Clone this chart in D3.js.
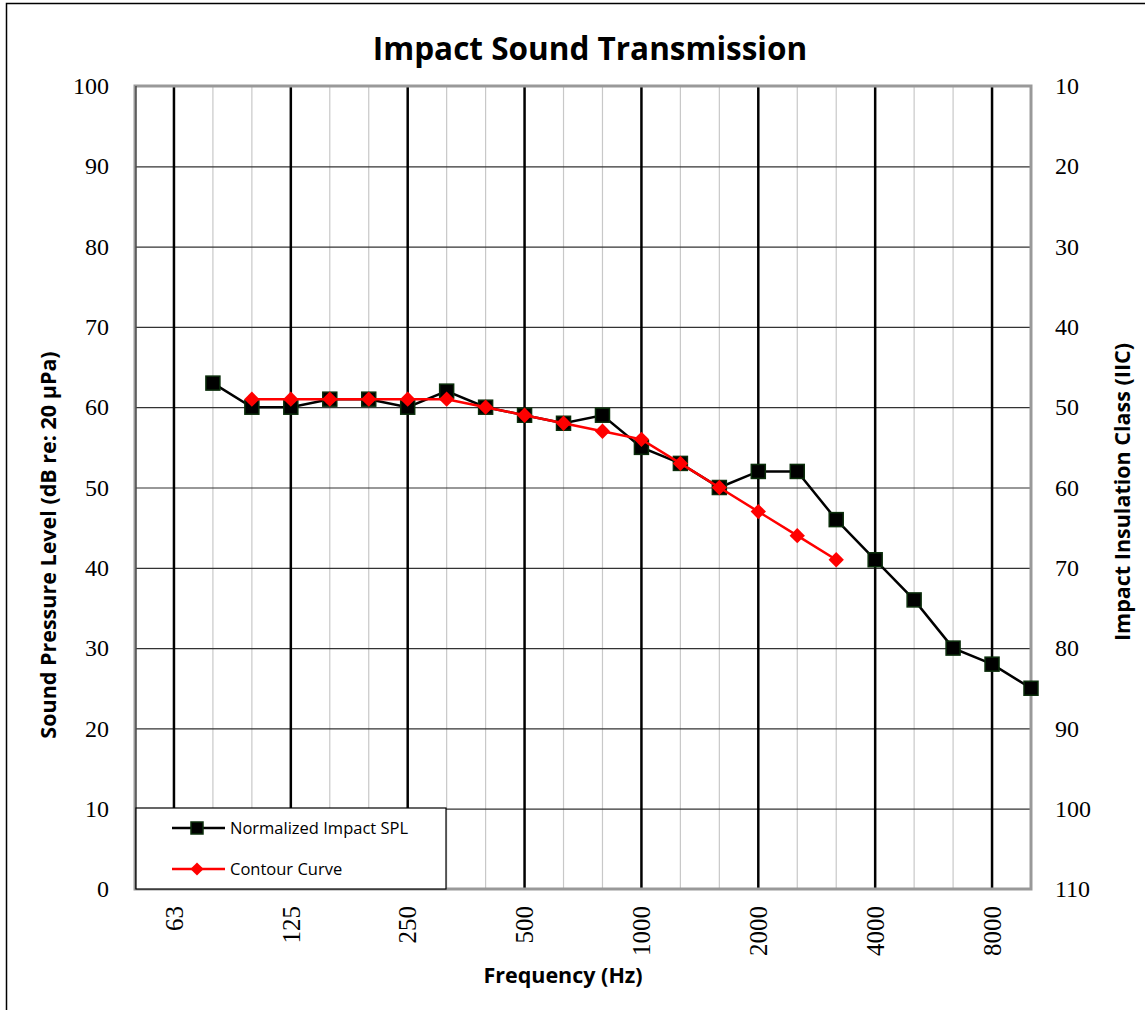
<!DOCTYPE html>
<html>
<head>
<meta charset="utf-8">
<script src="https://cdn.jsdelivr.net/npm/d3@7"></script>
<style>
  body { margin: 0; background: #fff; }
  .tick-serif { font-family: "Liberation Serif", "Times New Roman", serif; font-size: 24px; fill: #000; }
  .axis-title { font-family: "Open Sans", sans-serif; font-weight: bold; font-size: 21.5px; fill: #000; }
  .chart-title { font-family: "Open Sans", sans-serif; font-weight: bold; font-size: 31.5px; fill: #000; }
  .legend { font-family: "Open Sans", sans-serif; font-size: 16.5px; fill: #000; }
</style>
</head>
<body>
<div id="viz_container"></div>
<script>
// third-octave bands shown on the x axis
const bands = ["50", "63", "80", "100", "125", "160", "200", "250", "315", "400", "500", "630", "800",
  "1000", "1250", "1600", "2000", "2500", "3150", "4000", "5000", "6300", "8000", "10000"];
const octaveLabels = ["63", "125", "250", "500", "1000", "2000", "4000", "8000"];

// Normalized Impact SPL
const splBands = ["80", "100", "125", "160", "200", "250", "315", "400", "500", "630", "800", "1000",
  "1250", "1600", "2000", "2500", "3150", "4000", "5000", "6300", "8000", "10000"];
const splValues = [63, 60, 60, 61, 61, 60, 62, 60, 59, 58, 59, 55, 53, 50, 52, 52, 46, 41, 36, 30, 28, 25];

// Contour curve
const contourBands = ["100", "125", "160", "200", "250", "315", "400", "500", "630", "800", "1000",
  "1250", "1600", "2000", "2500", "3150"];
const contourValues = [61, 61, 61, 61, 61, 61, 60, 59, 58, 57, 56, 53, 50, 47, 44, 41];

const leftTicks = [0, 10, 20, 30, 40, 50, 60, 70, 80, 90, 100];
const rightTicks = [10, 20, 30, 40, 50, 60, 70, 80, 90, 100, 110];

// dimensions
const margin = { top: 86, right: 114, bottom: 121, left: 135 };
const W = 1145, H = 1010;
const width = W - margin.left - margin.right;
const height = H - margin.top - margin.bottom;

const root = d3.select("#viz_container")
  .append("svg")
  .attr("width", W)
  .attr("height", H);

// outer frame
root.append("rect")
  .attr("x", 6.5).attr("y", 3.5)
  .attr("width", W + 20).attr("height", H + 20)
  .attr("fill", "none").attr("stroke", "#000").attr("stroke-width", 1.5);

const svg = root.append("g")
  .attr("transform", `translate(${margin.left},${margin.top})`);

// scales
const xScale = d3.scalePoint().domain(bands).range([0, width]);
const yScale = d3.scaleLinear().domain([0, 100]).range([height, 0]);
const yRight = d3.scaleLinear().domain([10, 110]).range([0, height]);

// minor vertical grid
svg.append("g")
  .selectAll("line")
  .data(bands.filter(b => !octaveLabels.includes(b)))
  .join("line")
  .attr("x1", d => xScale(d)).attr("x2", d => xScale(d))
  .attr("y1", 0).attr("y2", height)
  .attr("stroke", "#c8c8c8").attr("stroke-width", 1.2);

// horizontal grid
svg.append("g")
  .call(d3.axisLeft(yScale).tickValues(leftTicks).tickSize(-width).tickFormat(""))
  .call(g => g.select(".domain").remove())
  .call(g => g.selectAll(".tick line").attr("stroke", "#333").attr("stroke-width", 1.2));

// major (octave) vertical grid
svg.append("g")
  .selectAll("line")
  .data(octaveLabels)
  .join("line")
  .attr("x1", d => xScale(d)).attr("x2", d => xScale(d))
  .attr("y1", 0).attr("y2", height)
  .attr("stroke", "#000").attr("stroke-width", 2.5);

// plot border
svg.append("rect")
  .attr("x", 0).attr("y", 0).attr("width", width).attr("height", height)
  .attr("fill", "none").attr("stroke", "#999").attr("stroke-width", 3);
svg.append("line")
  .attr("x1", 1).attr("x2", 1).attr("y1", 0).attr("y2", height)
  .attr("stroke", "#222").attr("stroke-width", 1);

// left axis labels
svg.append("g")
  .call(d3.axisLeft(yScale).tickValues(leftTicks).tickSize(0).tickPadding(26))
  .call(g => g.select(".domain").remove())
  .call(g => g.selectAll("text").attr("class", "tick-serif").attr("font-family", null).attr("font-size", null));

// right axis labels
svg.append("g")
  .attr("transform", `translate(${width},0)`)
  .call(d3.axisRight(yRight).tickValues(rightTicks).tickSize(0).tickPadding(24))
  .call(g => g.select(".domain").remove())
  .call(g => g.selectAll("text").attr("class", "tick-serif").attr("font-family", null).attr("font-size", null));

// x axis labels (rotated)
svg.append("g")
  .selectAll("text")
  .data(octaveLabels)
  .join("text")
  .attr("class", "tick-serif")
  .style("font-size", "25px")
  .attr("transform", d => `translate(${xScale(d)},${height + 17}) rotate(-90)`)
  .attr("text-anchor", "end")
  .attr("dy", "0.35em")
  .text(d => d);

// lines
const line = d3.line().x(d => xScale(d[0])).y(d => yScale(d[1]));
const splData = splBands.map((b, i) => [b, splValues[i]]);
const contourData = contourBands.map((b, i) => [b, contourValues[i]]);

svg.append("path")
  .datum(splData)
  .attr("d", line)
  .attr("fill", "none").attr("stroke", "#000").attr("stroke-width", 2.5);

svg.append("g")
  .selectAll("rect")
  .data(splData)
  .join("rect")
  .attr("x", d => xScale(d[0]) - 7).attr("y", d => yScale(d[1]) - 7)
  .attr("width", 14).attr("height", 14)
  .attr("fill", "#000").attr("stroke", "#0b2e0b").attr("stroke-width", 1.5);

svg.append("path")
  .datum(contourData)
  .attr("d", line)
  .attr("fill", "none").attr("stroke", "#ff0000").attr("stroke-width", 2.5);

const diamond = d3.symbol().type(d3.symbolDiamond2).size(150);
svg.append("g")
  .selectAll("path")
  .data(contourData)
  .join("path")
  .attr("transform", d => `translate(${xScale(d[0])},${yScale(d[1])})`)
  .attr("d", diamond)
  .attr("fill", "#ff0000");

// legend
const legend = svg.append("g").attr("transform", `translate(1,${height - 81})`);
legend.append("rect")
  .attr("x", 0).attr("y", 0).attr("width", 310).attr("height", 81)
  .attr("fill", "#fff").attr("stroke", "#000").attr("stroke-width", 1.2);
legend.append("line")
  .attr("x1", 36).attr("x2", 89).attr("y1", 20).attr("y2", 20)
  .attr("stroke", "#000").attr("stroke-width", 2.5);
legend.append("rect")
  .attr("x", 55).attr("y", 14).attr("width", 12).attr("height", 12)
  .attr("fill", "#000").attr("stroke", "#0b2e0b").attr("stroke-width", 1.5);
legend.append("text")
  .attr("class", "legend")
  .attr("x", 94).attr("y", 20).attr("dy", "0.35em")
  .text("Normalized Impact SPL");
legend.append("line")
  .attr("x1", 36).attr("x2", 89).attr("y1", 61).attr("y2", 61)
  .attr("stroke", "#ff0000").attr("stroke-width", 2.5);
legend.append("path")
  .attr("transform", "translate(61,61)")
  .attr("d", d3.symbol().type(d3.symbolDiamond2).size(110))
  .attr("fill", "#ff0000");
legend.append("text")
  .attr("class", "legend")
  .attr("x", 94).attr("y", 61).attr("dy", "0.35em")
  .text("Contour Curve");

// title
root.append("text")
  .attr("class", "chart-title")
  .attr("x", 590).attr("y", 60)
  .attr("text-anchor", "middle")
  .text("Impact Sound Transmission");

// axis titles
root.append("text")
  .attr("class", "axis-title")
  .attr("transform", "translate(48,545) rotate(-90)")
  .attr("text-anchor", "middle")
  .attr("dy", "0.35em")
  .text("Sound Pressure Level (dB re: 20 µPa)");

root.append("text")
  .attr("class", "axis-title")
  .attr("transform", "translate(1122,492) rotate(-90)")
  .attr("text-anchor", "middle")
  .attr("dy", "0.35em")
  .text("Impact Insulation Class (IIC)");

root.append("text")
  .attr("class", "axis-title")
  .attr("x", 563).attr("y", 983)
  .attr("text-anchor", "middle")
  .text("Frequency (Hz)");
</script>
</body>
</html>
